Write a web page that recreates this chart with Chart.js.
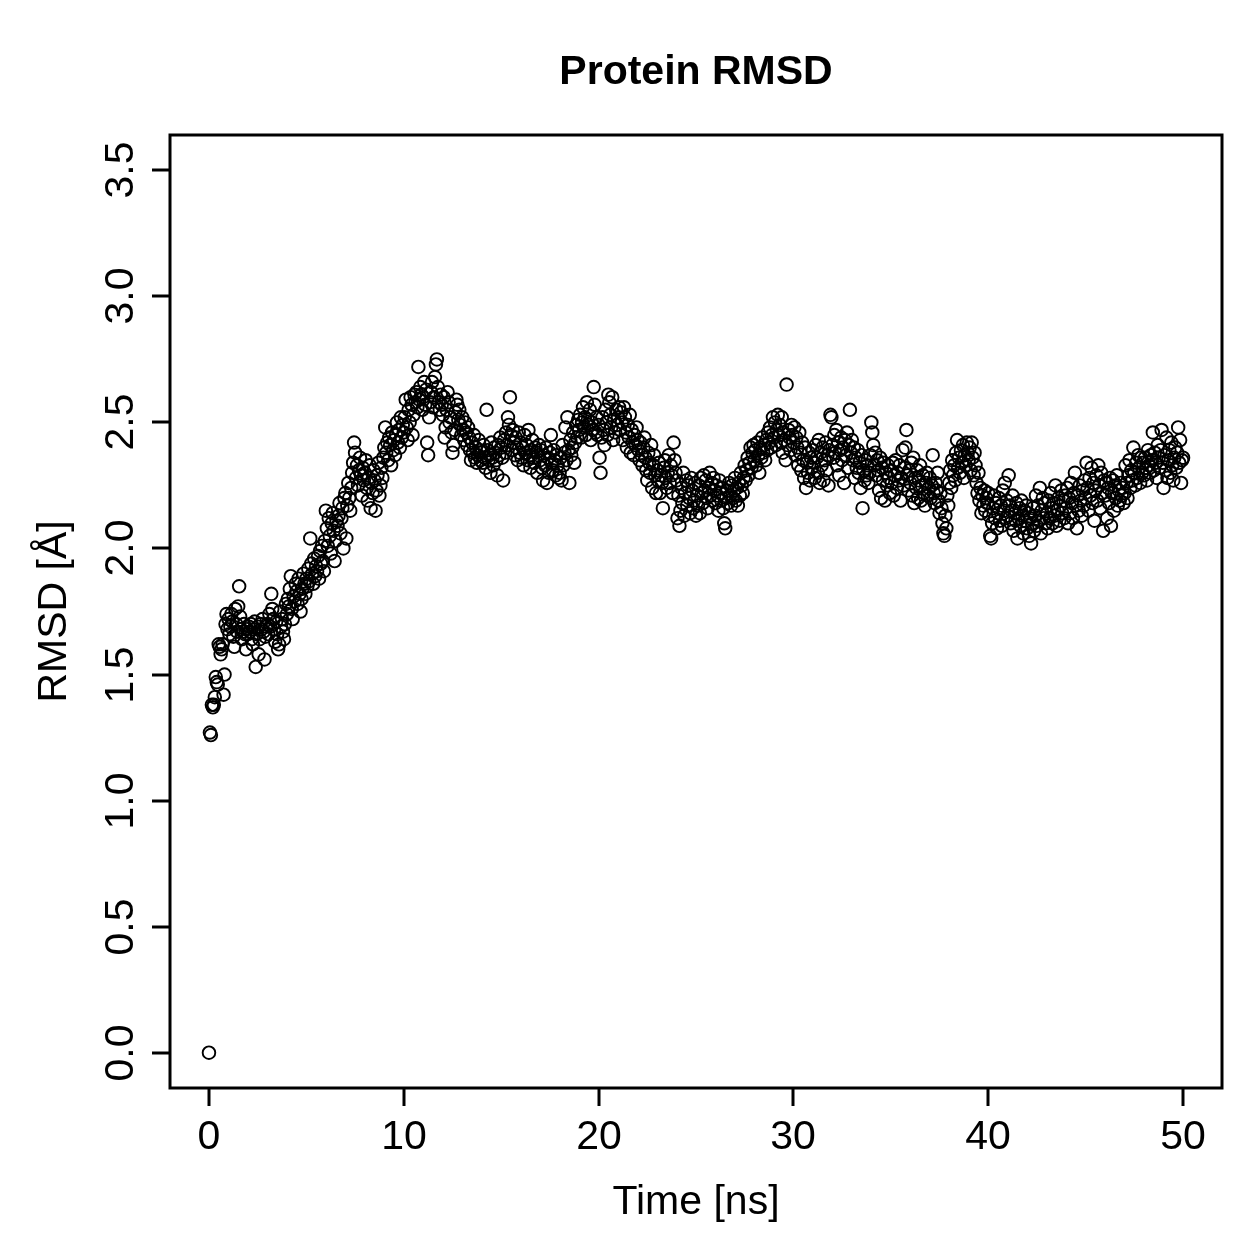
<!DOCTYPE html>
<html>
<head>
<meta charset="utf-8">
<title>Protein RMSD</title>
<script src="https://cdn.jsdelivr.net/npm/chart.js@4.4.1/dist/chart.umd.min.js"></script>
<style>
  html, body { margin: 0; padding: 0; background: #fff; }
  canvas { display: block; }
</style>
</head>
<body>
<canvas id="rmsdChart" width="1259" height="1259"></canvas>
<script>
// frames are written every 0.05 ns, 0 .. 50 ns
const TIME_STEP = 0.05;

// RMSD [Å], one row per nanosecond (20 frames)
const rmsd = [
  0.00, 1.27, 1.26, 1.38, 1.37, 1.38, 1.41, 1.49, 1.47, 1.46, 1.62, 1.61, 1.58, 1.60, 1.62, 1.42, 1.50, 1.70, 1.74, 1.68,
  1.72, 1.66, 1.69, 1.74, 1.71, 1.65, 1.61, 1.76, 1.70, 1.67, 1.77, 1.85, 1.73, 1.68, 1.64, 1.67, 1.70, 1.66, 1.60, 1.68,
  1.66, 1.69, 1.67, 1.70, 1.64, 1.62, 1.68, 1.71, 1.53, 1.66, 1.69, 1.58, 1.64, 1.70, 1.68, 1.72, 1.67, 1.56, 1.65, 1.69,
  1.70, 1.66, 1.74, 1.69, 1.82, 1.76, 1.72, 1.68, 1.63, 1.71, 1.66, 1.60, 1.62, 1.75, 1.69, 1.72, 1.67, 1.64, 1.70, 1.78,
  1.74, 1.80, 1.77, 1.84, 1.89, 1.76, 1.72, 1.81, 1.79, 1.86, 1.83, 1.78, 1.88, 1.82, 1.75, 1.80, 1.84, 1.90, 1.86, 1.82,
  1.88, 1.85, 1.92, 1.87, 2.04, 1.94, 1.90, 1.86, 1.96, 1.89, 1.93, 1.91, 1.97, 1.88, 1.99, 1.94, 2.01, 1.95, 1.91, 2.03,
  2.15, 2.08, 2.01, 2.12, 2.05, 1.98, 2.10, 2.14, 2.07, 1.95, 2.03, 2.11, 2.09, 2.13, 2.18, 2.06, 2.12, 2.16, 2.00, 2.20,
  2.22, 2.04, 2.17, 2.26, 2.20, 2.15, 2.24, 2.30, 2.34, 2.42, 2.38, 2.28, 2.33, 2.25, 2.31, 2.36, 2.29, 2.21, 2.32, 2.27,
  2.30, 2.35, 2.24, 2.19, 2.28, 2.33, 2.16, 2.26, 2.22, 2.31, 2.27, 2.15, 2.23, 2.29, 2.34, 2.21, 2.25, 2.32, 2.28, 2.36,
  2.40, 2.48, 2.38, 2.42, 2.35, 2.44, 2.41, 2.33, 2.46, 2.39, 2.43, 2.37, 2.45, 2.50, 2.42, 2.47, 2.40, 2.52, 2.44, 2.49,
  2.46, 2.52, 2.59, 2.48, 2.43, 2.55, 2.50, 2.60, 2.57, 2.45, 2.53, 2.61, 2.58, 2.62, 2.56, 2.72, 2.59, 2.64, 2.61, 2.55,
  2.60, 2.66, 2.57, 2.63, 2.42, 2.37, 2.52, 2.58, 2.62, 2.66, 2.56, 2.60, 2.68, 2.73, 2.75, 2.64, 2.58, 2.55, 2.61, 2.57,
  2.53, 2.60, 2.44, 2.48, 2.55, 2.62, 2.58, 2.50, 2.52, 2.46, 2.38, 2.41, 2.47, 2.54, 2.59, 2.57, 2.51, 2.55, 2.49, 2.45,
  2.52, 2.47, 2.43, 2.50, 2.46, 2.41, 2.48, 2.44, 2.39, 2.35, 2.42, 2.38, 2.45, 2.36, 2.40, 2.34, 2.37, 2.43, 2.39, 2.35,
  2.38, 2.34, 2.41, 2.36, 2.32, 2.55, 2.39, 2.35, 2.37, 2.30, 2.42, 2.36, 2.33, 2.40, 2.38, 2.35, 2.29, 2.41, 2.37, 2.44,
  2.40, 2.36, 2.27, 2.43, 2.38, 2.46, 2.41, 2.52, 2.49, 2.60, 2.45, 2.39, 2.47, 2.42, 2.37, 2.44, 2.40, 2.35, 2.46, 2.38,
  2.42, 2.36, 2.40, 2.33, 2.45, 2.38, 2.41, 2.35, 2.47, 2.37, 2.32, 2.39, 2.43, 2.36, 2.34, 2.40, 2.38, 2.30, 2.37, 2.41,
  2.35, 2.39, 2.32, 2.27, 2.37, 2.33, 2.40, 2.26, 2.36, 2.30, 2.38, 2.45, 2.34, 2.31, 2.39, 2.35, 2.29, 2.37, 2.33, 2.28,
  2.30, 2.36, 2.27, 2.41, 2.33, 2.38, 2.48, 2.35, 2.52, 2.39, 2.26, 2.43, 2.37, 2.40, 2.46, 2.34, 2.42, 2.49, 2.44, 2.51,
  2.47, 2.53, 2.44, 2.50, 2.56, 2.48, 2.52, 2.45, 2.58, 2.51, 2.49, 2.55, 2.43, 2.50, 2.47, 2.64, 2.57, 2.46, 2.52, 2.45,
  2.49, 2.36, 2.30, 2.44, 2.52, 2.47, 2.41, 2.55, 2.50, 2.45, 2.61, 2.58, 2.53, 2.48, 2.60, 2.43, 2.51, 2.46, 2.55, 2.49,
  2.52, 2.56, 2.47, 2.54, 2.50, 2.43, 2.56, 2.52, 2.46, 2.40, 2.49, 2.44, 2.53, 2.38, 2.47, 2.42, 2.37, 2.45, 2.41, 2.48,
  2.43, 2.39, 2.35, 2.42, 2.37, 2.33, 2.40, 2.44, 2.36, 2.31, 2.27, 2.38, 2.34, 2.30, 2.41, 2.24, 2.33, 2.37, 2.29, 2.22,
  2.31, 2.27, 2.34, 2.22, 2.29, 2.26, 2.16, 2.32, 2.35, 2.28, 2.24, 2.30, 2.37, 2.26, 2.33, 2.29, 2.22, 2.42, 2.35, 2.30,
  2.27, 2.12, 2.21, 2.09, 2.15, 2.24, 2.18, 2.30, 2.13, 2.22, 2.27, 2.17, 2.25, 2.20, 2.14, 2.28, 2.23, 2.16, 2.19, 2.26,
  2.13, 2.21, 2.17, 2.25, 2.14, 2.28, 2.22, 2.18, 2.29, 2.23, 2.27, 2.20, 2.16, 2.24, 2.30, 2.21, 2.26, 2.19, 2.28, 2.23,
  2.18, 2.25, 2.21, 2.15, 2.27, 2.22, 2.19, 2.24, 2.16, 2.10, 2.08, 2.20, 2.23, 2.18, 2.26, 2.21, 2.17, 2.25, 2.20, 2.23,
  2.28, 2.19, 2.24, 2.17, 2.26, 2.21, 2.30, 2.25, 2.22, 2.28, 2.33, 2.27, 2.31, 2.36, 2.29, 2.34, 2.40, 2.32, 2.38, 2.41,
  2.35, 2.39, 2.33, 2.42, 2.37, 2.30, 2.40, 2.36, 2.44, 2.38, 2.41, 2.35, 2.43, 2.39, 2.46, 2.42, 2.48, 2.40, 2.45, 2.52,
  2.44, 2.50, 2.41, 2.47, 2.53, 2.45, 2.49, 2.42, 2.52, 2.38, 2.46, 2.43, 2.35, 2.65, 2.41, 2.47, 2.44, 2.39, 2.49, 2.45,
  2.42, 2.48, 2.37, 2.44, 2.40, 2.33, 2.46, 2.38, 2.31, 2.42, 2.35, 2.28, 2.40, 2.24, 2.34, 2.30, 2.38, 2.27, 2.36, 2.32,
  2.39, 2.34, 2.28, 2.41, 2.36, 2.30, 2.43, 2.26, 2.38, 2.33, 2.40, 2.27, 2.35, 2.42, 2.31, 2.37, 2.25, 2.39, 2.53, 2.52,
  2.41, 2.36, 2.45, 2.38, 2.47, 2.33, 2.42, 2.29, 2.39, 2.44, 2.35, 2.40, 2.26, 2.43, 2.37, 2.46, 2.32, 2.41, 2.55, 2.38,
  2.43, 2.35, 2.40, 2.28, 2.36, 2.32, 2.39, 2.30, 2.34, 2.24, 2.37, 2.16, 2.31, 2.27, 2.35, 2.29, 2.33, 2.26, 2.30, 2.37,
  2.50, 2.46, 2.41, 2.33, 2.38, 2.29, 2.35, 2.31, 2.23, 2.36, 2.20, 2.32, 2.27, 2.34, 2.19, 2.30, 2.25, 2.33, 2.28, 2.22,
  2.31, 2.26, 2.34, 2.21, 2.29, 2.35, 2.24, 2.30, 2.27, 2.33, 2.19, 2.28, 2.39, 2.25, 2.32, 2.40, 2.47, 2.29, 2.23, 2.31,
  2.26, 2.34, 2.21, 2.36, 2.18, 2.28, 2.24, 2.31, 2.20, 2.27, 2.33, 2.19, 2.25, 2.29, 2.22, 2.17, 2.26, 2.30, 2.21, 2.24,
  2.28, 2.20, 2.25, 2.37, 2.22, 2.18, 2.26, 2.23, 2.30, 2.19, 2.14, 2.22, 2.16, 2.10, 2.06, 2.05, 2.13, 2.08, 2.21, 2.17,
  2.26, 2.31, 2.24, 2.35, 2.29, 2.33, 2.27, 2.38, 2.43, 2.32, 2.36, 2.30, 2.39, 2.34, 2.41, 2.28, 2.37, 2.33, 2.42, 2.38,
  2.35, 2.40, 2.31, 2.42, 2.36, 2.29, 2.38, 2.33, 2.26, 2.22, 2.30, 2.19, 2.24, 2.14, 2.21, 2.17, 2.23, 2.15, 2.20, 2.18,
  2.22, 2.13, 2.05, 2.04, 2.10, 2.16, 2.21, 2.12, 2.18, 2.08, 2.14, 2.20, 2.11, 2.17, 2.09, 2.23, 2.15, 2.26, 2.12, 2.19,
  2.13, 2.29, 2.17, 2.10, 2.15, 2.21, 2.07, 2.14, 2.11, 2.18, 2.04, 2.12, 2.16, 2.09, 2.19, 2.13, 2.06, 2.15, 2.11, 2.17,
  2.08, 2.14, 2.05, 2.12, 2.02, 2.10, 2.16, 2.07, 2.13, 2.21, 2.09, 2.17, 2.11, 2.24, 2.06, 2.15, 2.20, 2.12, 2.18, 2.10,
  2.14, 2.08, 2.19, 2.12, 2.22, 2.16, 2.10, 2.18, 2.13, 2.25, 2.09, 2.15, 2.20, 2.11, 2.17, 2.23, 2.14, 2.19, 2.12, 2.21,
  2.16, 2.24, 2.10, 2.20, 2.14, 2.26, 2.18, 2.12, 2.22, 2.30, 2.17, 2.08, 2.21, 2.15, 2.25, 2.19, 2.13, 2.23, 2.17, 2.27,
  2.20, 2.34, 2.24, 2.15, 2.28, 2.21, 2.32, 2.18, 2.26, 2.11, 2.23, 2.29, 2.19, 2.33, 2.25, 2.16, 2.30, 2.22, 2.07, 2.27,
  2.21, 2.26, 2.12, 2.24, 2.18, 2.28, 2.09, 2.22, 2.27, 2.15, 2.25, 2.20, 2.29, 2.17, 2.23, 2.19, 2.26, 2.21, 2.24, 2.18,
  2.22, 2.33, 2.26, 2.20, 2.29, 2.35, 2.24, 2.31, 2.27, 2.40, 2.30, 2.25, 2.34, 2.28, 2.37, 2.32, 2.26, 2.36, 2.30, 2.34,
  2.29, 2.36, 2.32, 2.27, 2.39, 2.33, 2.30, 2.37, 2.35, 2.46, 2.31, 2.38, 2.34, 2.28, 2.41, 2.36, 2.32, 2.39, 2.47, 2.34,
  2.24, 2.37, 2.31, 2.44, 2.28, 2.35, 2.39, 2.30, 2.42, 2.33, 2.27, 2.36, 2.40, 2.32, 2.38, 2.48, 2.34, 2.43, 2.26, 2.35,
  2.36
];

const xTicks = [0, 10, 20, 30, 40, 50];
const yTicks = [0.0, 0.5, 1.0, 1.5, 2.0, 2.5, 3.0, 3.5];
const yTickLabels = ["0.0", "0.5", "1.0", "1.5", "2.0", "2.5", "3.0", "3.5"];

const FONT = '"Liberation Sans", Arial, Helvetica, sans-serif';

const points = rmsd.map((v, i) => ({ x: +(i * TIME_STEP).toFixed(2), y: v }));

// R-style box, ticks and labels, drawn from the chart's own scales
const baseAxes = {
  id: "baseAxes",
  afterDraw(chart) {
    const c = chart.ctx;
    const area = chart.chartArea;
    const xs = chart.scales.x;
    const ys = chart.scales.y;

    c.save();
    c.strokeStyle = "#000";
    c.fillStyle = "#000";
    c.lineWidth = 3;
    c.lineCap = "butt";
    c.strokeRect(area.left, area.top, area.right - area.left, area.bottom - area.top);

    // x axis
    c.font = "41px " + FONT;
    c.textAlign = "center";
    c.textBaseline = "alphabetic";
    xTicks.forEach(t => {
      const px = Math.round(xs.getPixelForValue(t));
      c.beginPath();
      c.moveTo(px, area.bottom);
      c.lineTo(px, area.bottom + 18);
      c.stroke();
      c.fillText(String(t), px, 1149);
    });

    // y axis, labels turned like R does
    yTicks.forEach((t, i) => {
      const py = Math.round(ys.getPixelForValue(t));
      c.beginPath();
      c.moveTo(area.left, py);
      c.lineTo(area.left - 18, py);
      c.stroke();
      c.save();
      c.translate(133, py);
      c.rotate(-Math.PI / 2);
      c.fillText(yTickLabels[i], 0, 0);
      c.restore();
    });

    // axis titles
    const midX = (area.left + area.right) / 2;
    const midY = (area.top + area.bottom) / 2;
    c.fillText("Time [ns]", midX, 1214);
    c.save();
    c.translate(66, midY);
    c.rotate(-Math.PI / 2);
    c.fillText("RMSD [Å]", 0, 0);
    c.restore();

    // main title
    c.font = "bold 41px " + FONT;
    c.fillText("Protein RMSD", midX, 84);
    c.restore();
  }
};

new Chart(document.getElementById("rmsdChart").getContext("2d"), {
  type: "scatter",
  data: {
    datasets: [{
      label: "RMSD",
      data: points,
      pointStyle: "circle",
      pointRadius: 6.3,
      pointBorderWidth: 1.9,
      pointBorderColor: "#000",
      borderColor: "#000",
      backgroundColor: "rgba(0,0,0,0)",
      pointBackgroundColor: "rgba(0,0,0,0)"
    }]
  },
  options: {
    responsive: false,
    animation: false,
    devicePixelRatio: 1,
    layout: {
      padding: { left: 170, right: 37, top: 135, bottom: 171 }
    },
    scales: {
      x: { type: "linear", min: -2, max: 52, display: false },
      y: { type: "linear", min: -0.14, max: 3.64, display: false }
    },
    plugins: {
      legend: { display: false },
      tooltip: { enabled: false },
      title: { display: false }
    }
  },
  plugins: [baseAxes]
});
</script>
</body>
</html>
